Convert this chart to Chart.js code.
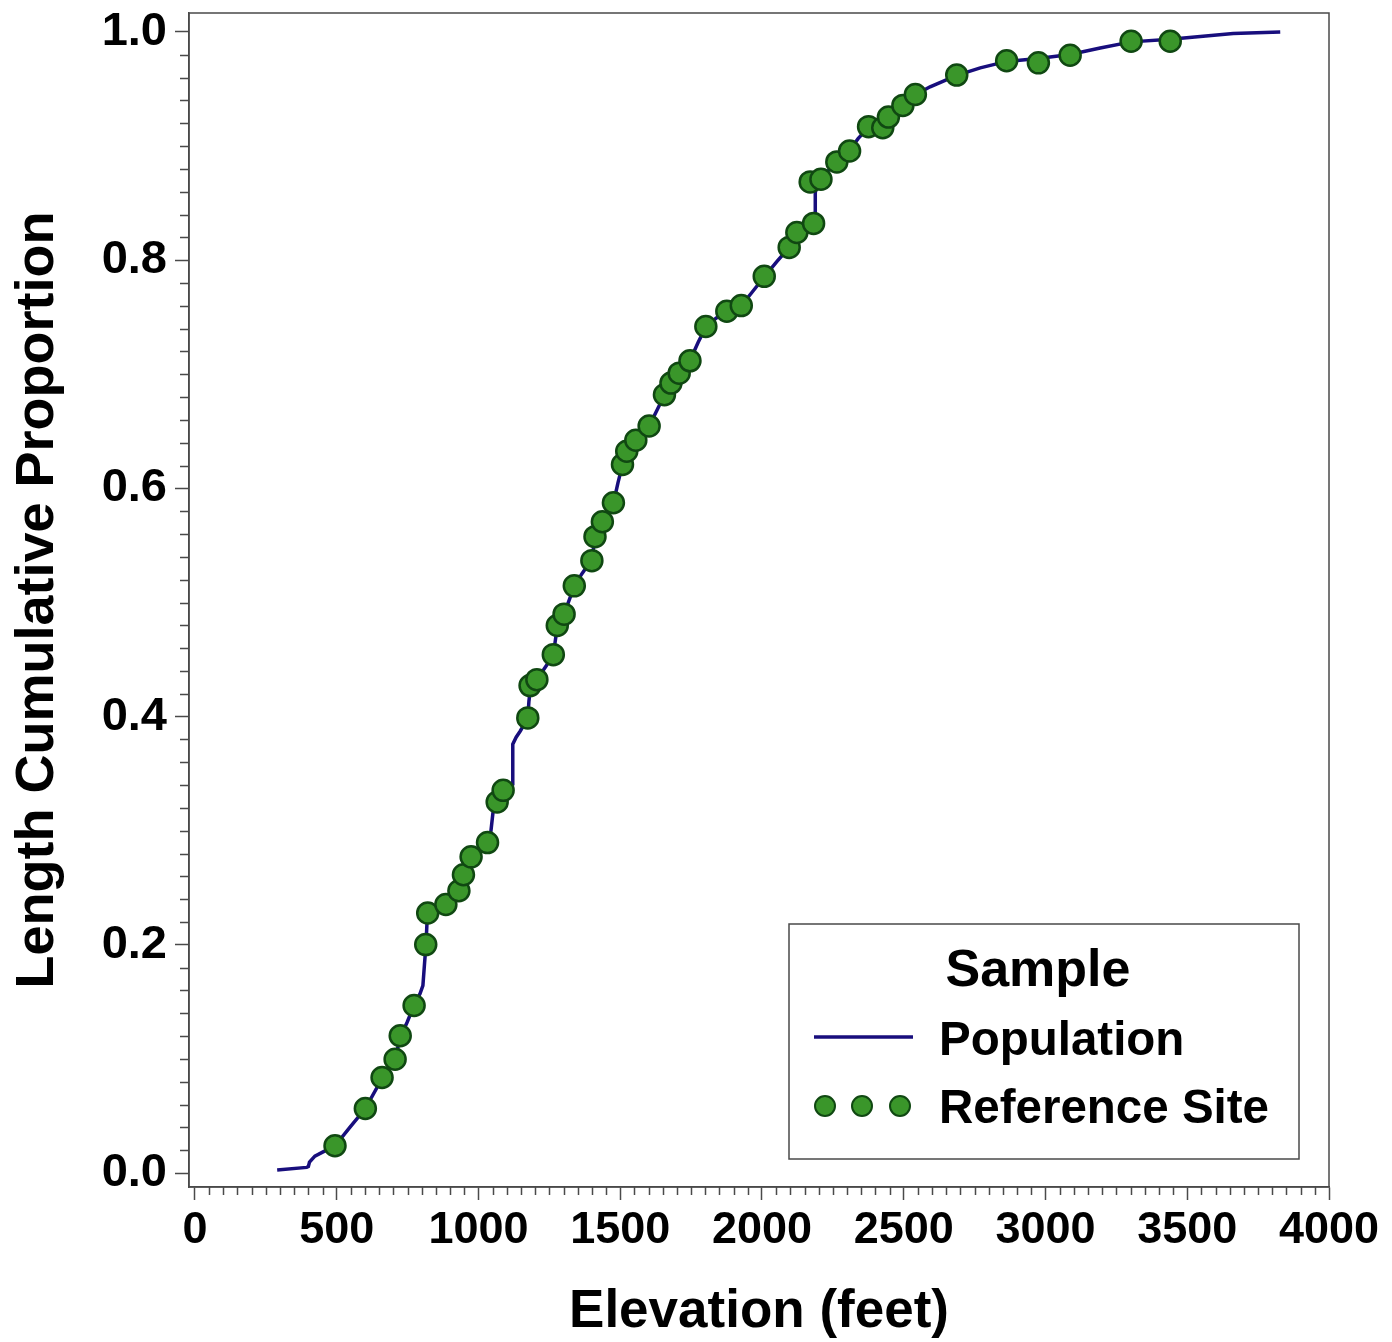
<!DOCTYPE html>
<html>
<head>
<meta charset="utf-8">
<title>Length Cumulative Proportion by Elevation</title>
<script src="https://cdn.jsdelivr.net/npm/chart.js@4.4.1/dist/chart.umd.min.js"></script>
<style>
  body { margin: 0; background: #fff; }
  canvas { display: block; }
</style>
</head>
<body>
<canvas id="cdfChart" width="1392" height="1342"></canvas>
<script>
// population CDF (line)
const popElevation = [290, 394, 400, 404, 423, 452, 494, 547, 601, 660,
  706, 724, 748, 773, 794, 804, 810, 815, 820, 840,
  886, 910, 931, 947, 974, 1006, 1032, 1044, 1051, 1066,
  1087, 1104, 1121, 1121, 1133, 1147, 1174, 1178, 1184, 1207,
  1238, 1264, 1278, 1302, 1338, 1365, 1400, 1411, 1437, 1476,
  1492, 1508, 1524, 1556, 1602, 1630, 1656, 1679, 1708, 1746,
  1775, 1802, 1838, 1877, 1927, 1965, 2008, 2053, 2096, 2124,
  2152, 2188, 2188, 2195, 2209, 2234, 2265, 2307, 2339, 2376,
  2410, 2446, 2498, 2541, 2593, 2687, 2770, 2863, 2974, 3087,
  3193, 3302, 3440, 3546, 3662, 3828]
const popProportion = [0.0026, 0.0050, 0.0057, 0.0096, 0.0149, 0.0186, 0.0239, 0.0402, 0.0566, 0.0830,
  0.0997, 0.1189, 0.1320, 0.1469, 0.1573, 0.1643, 0.1844, 0.2002, 0.2281, 0.2316,
  0.2356, 0.2421, 0.2478, 0.2605, 0.2762, 0.2841, 0.2893, 0.2998, 0.3156, 0.3252,
  0.3352, 0.3387, 0.3409, 0.3759, 0.3820, 0.3872, 0.3986, 0.4135, 0.4257, 0.4327,
  0.4441, 0.4541, 0.4790, 0.4899, 0.5144, 0.5253, 0.5376, 0.5568, 0.5704, 0.5870,
  0.6049, 0.6206, 0.6324, 0.6420, 0.6547, 0.6687, 0.6818, 0.6923, 0.7010, 0.7120,
  0.7281, 0.7413, 0.7491, 0.7552, 0.7601, 0.7719, 0.7854, 0.7990, 0.8112, 0.8234,
  0.8278, 0.8326, 0.8593, 0.8671, 0.8706, 0.8785, 0.8859, 0.8955, 0.9065, 0.9165,
  0.9205, 0.9253, 0.9358, 0.9449, 0.9519, 0.9620, 0.9685, 0.9742, 0.9768, 0.9803,
  0.9860, 0.9913, 0.9935, 0.9961, 0.9987, 1.0]

// reference sites (dots)
const siteElevation = [494, 601, 660, 706, 724, 773, 814, 821, 885, 931,
  947, 974, 1032, 1066, 1087, 1174, 1182, 1206, 1264, 1278,
  1302, 1338, 1400, 1411, 1437, 1476, 1508, 1523, 1555, 1602,
  1656, 1679, 1708, 1746, 1802, 1876, 1927, 2008, 2096, 2123,
  2182, 2170, 2208, 2264, 2309, 2376, 2426, 2446, 2497, 2541,
  2687, 2863, 2975, 3087, 3302, 3440]
const siteProportion = [0.0239, 0.0566, 0.0837, 0.0997, 0.1204, 0.1469, 0.2002, 0.2279, 0.2354, 0.2474,
  0.2614, 0.2771, 0.2896, 0.3252, 0.3354, 0.3989, 0.4272, 0.4324, 0.4543, 0.4799,
  0.4898, 0.5146, 0.5367, 0.5577, 0.5708, 0.5874, 0.6209, 0.6326, 0.6422, 0.6547,
  0.6821, 0.6923, 0.7010, 0.7118, 0.7419, 0.7552, 0.7602, 0.7858, 0.8112, 0.8243,
  0.8322, 0.8686, 0.8709, 0.8861, 0.8957, 0.9170, 0.9161, 0.9254, 0.9356, 0.9452,
  0.9622, 0.9747, 0.9729, 0.9796, 0.9919, 0.9919]

const xTickValues = [0, 500, 1000, 1500, 2000, 2500, 3000, 3500, 4000]
const yTickValues = [0, 0.2, 0.4, 0.6, 0.8, 1.0]

const FONT = '"Liberation Sans", Arial, Helvetica, sans-serif'
const LINE_COLOR = 'rgb(24, 14, 125)'
const DOT_FILL = 'rgb(58, 150, 42)'
const DOT_EDGE = 'rgb(16, 72, 18)'
const AXIS_COLOR = '#4a4a4a'

const toXY = (xs, ys) => xs.map((x, i) => ({x: x, y: ys[i]}))

// frame + minor ticks
const framePlugin = {
    id: 'frame',
    afterDraw(chart) {
        const {ctx, chartArea: a, scales} = chart
        ctx.save()
        ctx.strokeStyle = AXIS_COLOR
        ctx.lineWidth = 1.5
        ctx.strokeRect(a.left, a.top, a.right - a.left, a.bottom - a.top)
        ctx.beginPath()
        for (let v = 0; v <= 4000; v += 50) {
            if (v % 500 === 0) continue
            const px = Math.round(scales.x.getPixelForValue(v)) + 0.5
            ctx.moveTo(px, a.bottom)
            ctx.lineTo(px, a.bottom + 8)
        }
        for (let i = 0; i <= 50; i++) {
            if (i % 10 === 0) continue
            const py = Math.round(scales.y.getPixelForValue(i * 0.02)) + 0.5
            ctx.moveTo(a.left, py)
            ctx.lineTo(a.left - 9, py)
        }
        ctx.stroke()
        ctx.restore()
    }
}

// boxed legend like the original
const legendPlugin = {
    id: 'boxLegend',
    afterDraw(chart) {
        const ctx = chart.ctx
        ctx.save()
        ctx.fillStyle = '#fff'
        ctx.fillRect(789, 924, 510, 235)
        ctx.strokeStyle = AXIS_COLOR
        ctx.lineWidth = 1.5
        ctx.strokeRect(789, 924, 510, 235)

        ctx.fillStyle = '#000'
        ctx.textBaseline = 'alphabetic'
        ctx.textAlign = 'center'
        ctx.font = 'bold 52px ' + FONT
        ctx.fillText('Sample', 1038, 986)

        ctx.textAlign = 'left'
        ctx.font = 'bold 47.5px ' + FONT
        ctx.fillText('Population', 939, 1055)
        ctx.fillText('Reference Site', 939, 1123)

        ctx.strokeStyle = LINE_COLOR
        ctx.lineWidth = 3.5
        ctx.beginPath()
        ctx.moveTo(814, 1037)
        ctx.lineTo(913, 1037)
        ctx.stroke()

        ctx.fillStyle = DOT_FILL
        ctx.strokeStyle = DOT_EDGE
        ctx.lineWidth = 2
        ;[825, 862, 900].forEach(cx => {
            ctx.beginPath()
            ctx.arc(cx, 1106, 10, 0, Math.PI * 2)
            ctx.fill()
            ctx.stroke()
        })
        ctx.restore()
    }
}

const ctx = document.getElementById('cdfChart')

const chart = new Chart(ctx, {
    type: 'scatter',
    data: {
        datasets: [{
            label: 'Reference Site',
            data: toXY(siteElevation, siteProportion),
            showLine: false,
            pointRadius: 10.5,
            pointBackgroundColor: DOT_FILL,
            pointBorderColor: DOT_EDGE,
            pointBorderWidth: 2.5,
            order: 0
        },
        {
            label: 'Population',
            data: toXY(popElevation, popProportion),
            showLine: true,
            borderColor: LINE_COLOR,
            borderWidth: 3.5,
            pointRadius: 0,
            tension: 0,
            order: 1
        }]
    },
    options: {
        responsive: false,
        animation: false,
        layout: {
            padding: {top: 10, right: 63, left: 0, bottom: 0}
        },
        plugins: {
            legend: {display: false},
            tooltip: {enabled: false}
        },
        scales: {
            x: {
                type: 'linear',
                min: -21,
                max: 4000,
                afterFit: (s) => {
                    s.height = 155
                    s.paddingLeft = 0
                    s.paddingRight = 0
                },
                afterBuildTicks: (s) => { s.ticks = xTickValues.map(v => ({value: v})) },
                grid: {
                    drawOnChartArea: false,
                    tickLength: 13,
                    tickColor: AXIS_COLOR,
                    tickWidth: 1.5
                },
                border: {color: AXIS_COLOR, width: 1.5},
                ticks: {
                    color: '#000',
                    padding: 4,
                    maxRotation: 0,
                    autoSkip: false,
                    font: {family: FONT, size: 45, weight: 'bold'},
                    callback: (v) => String(v)
                },
                title: {
                    display: true,
                    text: 'Elevation (feet)',
                    color: '#000',
                    padding: {top: 0, bottom: 3},
                    font: {family: FONT, size: 53, weight: 'bold', lineHeight: 1}
                }
            },
            y: {
                type: 'linear',
                min: -0.0122,
                max: 1.0166,
                afterFit: (s) => {
                    s.width = 189
                    s.paddingTop = 0
                    s.paddingBottom = 0
                },
                afterBuildTicks: (s) => { s.ticks = yTickValues.map(v => ({value: v})) },
                grid: {
                    drawOnChartArea: false,
                    tickLength: 14,
                    tickColor: AXIS_COLOR,
                    tickWidth: 1.5
                },
                border: {color: AXIS_COLOR, width: 1.5},
                ticks: {
                    color: '#000',
                    padding: 8,
                    autoSkip: false,
                    font: {family: FONT, size: 47, weight: 'bold'},
                    callback: (v) => Number(v).toFixed(1)
                },
                title: {
                    display: true,
                    text: 'Length Cumulative Proportion',
                    color: '#000',
                    padding: {top: 11, bottom: 0},
                    font: {family: FONT, size: 54, weight: 'bold', lineHeight: 1}
                }
            }
        }
    },
    plugins: [framePlugin, legendPlugin]
});
</script>
</body>
</html>
